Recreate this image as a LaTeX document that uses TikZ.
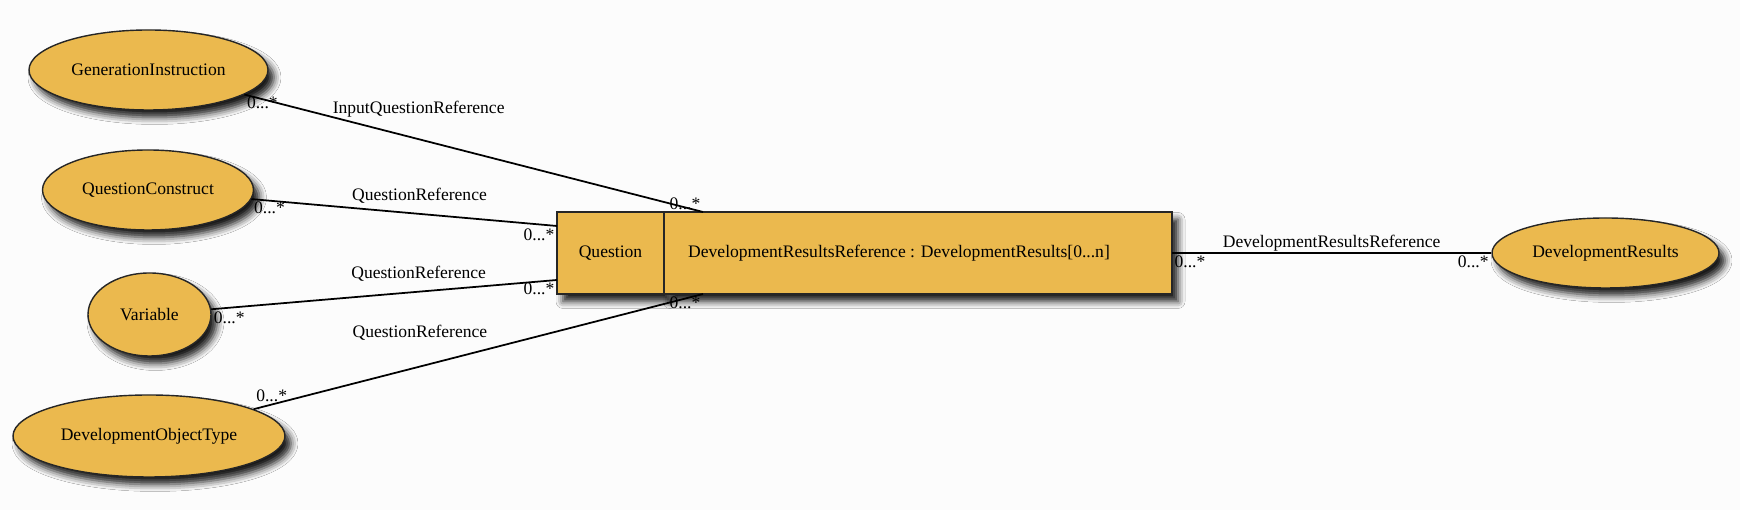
\documentclass[tikz,border=0pt]{standalone}
\usepackage{fontspec}
\setmainfont{Liberation Serif}
\usetikzlibrary{shapes, positioning, shadows.blur}
\definecolor{goldfill}{RGB}{235,185,78}
\definecolor{paper}{RGB}{252,252,252}
\tikzstyle{entity} = [ellipse, inner sep=0pt, text centered, draw=black!85, line width=0.8pt, fill=goldfill, blur shadow={shadow xshift=0.12cm, shadow yshift=-0.15cm, shadow blur radius=0.14cm, shadow opacity=90}]
\tikzstyle{classbox} = [rectangle, minimum height=1.64cm, outer sep=0pt, text centered, draw=black!85, line width=0.8pt, fill=goldfill, blur shadow={shadow xshift=0.12cm, shadow yshift=-0.15cm, shadow blur radius=0.14cm, shadow opacity=90}]
\tikzstyle{edge} = [line width=1pt]
\tikzstyle{mult} = [inner sep=1pt]

\begin{document}
\begin{tikzpicture}

\fill [paper] (0,0) rectangle (34.8,10.2);
\useasboundingbox (0,0) rectangle (34.8,10.2);

\node (0) [classbox, minimum width=2.14cm] at (12.21,5.14) {Question};
\node (1) [classbox, minimum width=10.16cm, right=0cm of 0] {DevelopmentResultsReference : DevelopmentResults[0...n]\hspace*{0.76cm}};
\node (2) [entity, minimum width=4.78cm, minimum height=1.6cm] at (2.97,8.80) {GenerationInstruction};
\node (3) [entity, minimum width=4.22cm, minimum height=1.6cm] at (2.96,6.40) {QuestionConstruct};
\node (4) [entity, minimum width=2.46cm, minimum height=1.66cm] at (2.99,3.91) {Variable};
\node (5) [entity, minimum width=5.44cm, minimum height=1.64cm] at (2.98,1.48) {DevelopmentObjectType};
\node (6) [entity, minimum width=4.54cm, minimum height=1.4cm] at (32.11,5.14) {DevelopmentResults};

\coordinate [right=0.78cm of 1.north west] (1t);
\coordinate [right=0.78cm of 1.south west] (1b);
\coordinate [below=0.28cm of 0.north west] (0t);
\coordinate [above=0.28cm of 0.south west] (0b);

\draw [edge] (2) -- node[pos=0.38, yshift=0.6cm]{InputQuestionReference} node[mult, at start, anchor=north west]{0...*} node[mult, at end, anchor=south east]{0...*} (1t);
\draw [edge] (3) -- node[pos=0.55, yshift=0.36cm]{QuestionReference} node[mult, at start, anchor=north west]{0...*} node[mult, at end, anchor=north east]{0...*} (0t);
\draw [edge] (4) -- node[pos=0.6, yshift=0.36cm]{QuestionReference} node[mult, at start, anchor=north west]{0...*} node[mult, at end, anchor=north east]{0...*} (0b);
\draw [edge] (5) -- node[pos=0.37, yshift=0.68cm]{QuestionReference} node[mult, at start, anchor=south west, yshift=0.1cm]{0...*} node[mult, at end, anchor=north east]{0...*} (1b);
\draw [edge] (1) -- node[yshift=0.2cm]{DevelopmentResultsReference} node[mult, at start, anchor=north west]{0...*} node[mult, at end, anchor=north east]{0...*} (6);

\end{tikzpicture}
\end{document}
